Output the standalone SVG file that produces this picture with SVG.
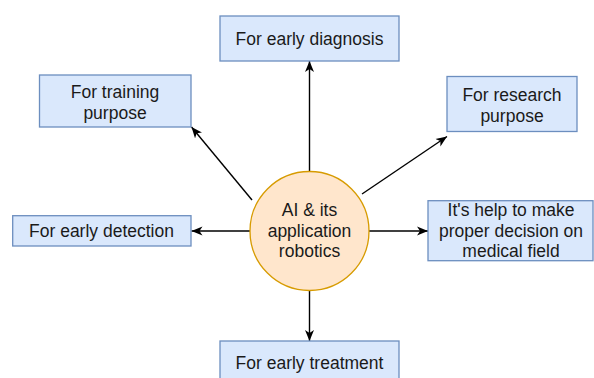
<svg xmlns="http://www.w3.org/2000/svg" width="594" height="378" viewBox="0 0 594 378">
<defs>
<marker id="arr" markerUnits="userSpaceOnUse" markerWidth="12" markerHeight="10" refX="11" refY="5" orient="auto">
<path d="M0,0.5 L11,5 L0,9.5 L3,5 Z" fill="#000"/>
</marker>
<style>
.box{fill:#dae8fc;stroke:#6c8ebf;stroke-width:1.3}
.circ{fill:#ffe6cc;stroke:#d79b00;stroke-width:1.3}
.t{font-family:"Liberation Sans",Arial,sans-serif;font-size:17.5px;fill:#1a1a1a;text-anchor:middle}
.c{stroke:#000;stroke-width:1.4;fill:none;marker-end:url(#arr)}
</style>
</defs>
<rect width="594" height="378" fill="#fff"/>
<g id="connectors">
<line class="c" x1="309.5" y1="171.5" x2="309.5" y2="61"/>
<line class="c" x1="252" y1="200" x2="191.5" y2="127"/>
<line class="c" x1="362" y1="194" x2="447" y2="136.5"/>
<line class="c" x1="250" y1="231" x2="191.5" y2="231"/>
<line class="c" x1="369" y1="231" x2="428" y2="231"/>
<line class="c" x1="309.5" y1="291" x2="309.5" y2="341"/>
</g>
<g id="center">
<circle class="circ" cx="309.5" cy="231" r="59.5"/>
<text class="t" x="309.5" y="216">AI &amp; its</text>
<text class="t" x="309.5" y="236.7">application</text>
<text class="t" x="309.5" y="257.3">robotics</text>
</g>
<g id="diagnosis">
<rect class="box" x="220" y="16" width="179" height="45"/>
<text class="t" x="309.5" y="44.5">For early diagnosis</text>
</g>
<g id="training">
<rect class="box" x="39.5" y="75" width="151.5" height="52"/>
<text class="t" x="115" y="98.3">For training</text>
<text class="t" x="115" y="118.5">purpose</text>
</g>
<g id="research">
<rect class="box" x="447" y="76.5" width="130" height="55"/>
<text class="t" x="512" y="101">For research</text>
<text class="t" x="512" y="121.7">purpose</text>
</g>
<g id="detection">
<rect class="box" x="12.7" y="215.7" width="178.3" height="30.3"/>
<text class="t" x="101.5" y="237.3">For early detection</text>
</g>
<g id="decision">
<rect class="box" x="428" y="200.7" width="165" height="60"/>
<text class="t" x="511" y="216">It's help to make</text>
<text class="t" x="511" y="236.7">proper decision on</text>
<text class="t" x="511" y="257.3">medical field</text>
</g>
<g id="treatment">
<rect class="box" x="220" y="341" width="179" height="45"/>
<text class="t" x="309.5" y="369.3">For early treatment</text>
</g>
</svg>
